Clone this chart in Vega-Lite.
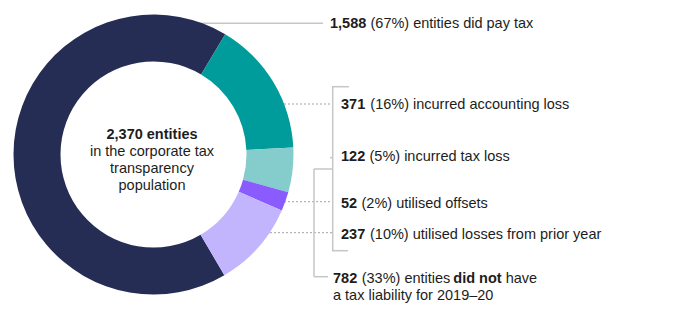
{
  "$schema": "https://vega.github.io/schema/vega-lite/v6.json",
  "width": 689,
  "height": 334,
  "padding": 0,
  "autosize": {"type": "none"},
  "background": "white",
  "datasets": {
    "seg": [
      {"seg": "Paid tax", "count": 1588, "pct": 67, "desc": "entities did pay tax"},
      {"seg": "Accounting loss", "count": 371, "pct": 16, "desc": "incurred accounting loss"},
      {"seg": "Tax loss", "count": 122, "pct": 5, "desc": "incurred tax loss"},
      {"seg": "Offsets", "count": 52, "pct": 2, "desc": "utilised offsets"},
      {"seg": "Prior losses", "count": 237, "pct": 10, "desc": "utilised losses from prior year"}
    ]
  },
  "layer": [
    {
      "data": {"values": [{}]},
      "layer": [
        {"mark": {"type": "rule"}, "encoding": {"x": {"datum": 190, "type": "quantitative", "scale": {"domain": [0, 689], "nice": false, "zero": false}, "axis": null}, "x2": {"datum": 323}, "y": {"datum": 23.3, "type": "quantitative", "scale": {"domain": [0, 334], "nice": false, "zero": false, "reverse": true}, "axis": null}}},
        {"mark": {"type": "rule", "strokeDash": [2, 2], "color": "#a3a3a3", "strokeWidth": 1}, "encoding": {"x": {"datum": 280, "type": "quantitative", "scale": {"domain": [0, 689], "nice": false, "zero": false}, "axis": null}, "x2": {"datum": 332}, "y": {"datum": 104, "type": "quantitative", "scale": {"domain": [0, 334], "nice": false, "zero": false, "reverse": true}, "axis": null}}},
        {"mark": {"type": "rule", "strokeDash": [2, 2], "color": "#a3a3a3", "strokeWidth": 1}, "encoding": {"x": {"datum": 280, "type": "quantitative", "scale": {"domain": [0, 689], "nice": false, "zero": false}, "axis": null}, "x2": {"datum": 332}, "y": {"datum": 201.7, "type": "quantitative", "scale": {"domain": [0, 334], "nice": false, "zero": false, "reverse": true}, "axis": null}}},
        {"mark": {"type": "rule", "strokeDash": [2, 2], "color": "#a3a3a3", "strokeWidth": 1}, "encoding": {"x": {"datum": 262, "type": "quantitative", "scale": {"domain": [0, 689], "nice": false, "zero": false}, "axis": null}, "x2": {"datum": 332}, "y": {"datum": 232.7, "type": "quantitative", "scale": {"domain": [0, 334], "nice": false, "zero": false, "reverse": true}, "axis": null}}},
        {"mark": {"type": "rule"}, "encoding": {"x": {"datum": 332.7, "type": "quantitative", "scale": {"domain": [0, 689], "nice": false, "zero": false}, "axis": null}, "y": {"datum": 86.7, "type": "quantitative", "scale": {"domain": [0, 334], "nice": false, "zero": false, "reverse": true}, "axis": null}, "y2": {"datum": 250.7}}},
        {"mark": {"type": "rule"}, "encoding": {"x": {"datum": 332, "type": "quantitative", "scale": {"domain": [0, 689], "nice": false, "zero": false}, "axis": null}, "x2": {"datum": 349}, "y": {"datum": 86.7, "type": "quantitative", "scale": {"domain": [0, 334], "nice": false, "zero": false, "reverse": true}, "axis": null}}},
        {"mark": {"type": "rule"}, "encoding": {"x": {"datum": 332, "type": "quantitative", "scale": {"domain": [0, 689], "nice": false, "zero": false}, "axis": null}, "x2": {"datum": 348}, "y": {"datum": 250.7, "type": "quantitative", "scale": {"domain": [0, 334], "nice": false, "zero": false, "reverse": true}, "axis": null}}},
        {"mark": {"type": "rule"}, "encoding": {"x": {"datum": 314, "type": "quantitative", "scale": {"domain": [0, 689], "nice": false, "zero": false}, "axis": null}, "x2": {"datum": 332.7}, "y": {"datum": 169, "type": "quantitative", "scale": {"domain": [0, 334], "nice": false, "zero": false, "reverse": true}, "axis": null}}},
        {"mark": {"type": "rule"}, "encoding": {"x": {"datum": 314, "type": "quantitative", "scale": {"domain": [0, 689], "nice": false, "zero": false}, "axis": null}, "y": {"datum": 169, "type": "quantitative", "scale": {"domain": [0, 334], "nice": false, "zero": false, "reverse": true}, "axis": null}, "y2": {"datum": 276.7}}},
        {"mark": {"type": "rule"}, "encoding": {"x": {"datum": 314, "type": "quantitative", "scale": {"domain": [0, 689], "nice": false, "zero": false}, "axis": null}, "x2": {"datum": 328}, "y": {"datum": 276.7, "type": "quantitative", "scale": {"domain": [0, 334], "nice": false, "zero": false, "reverse": true}, "axis": null}}},
        {"mark": {"type": "rule"}, "encoding": {"x": {"datum": 330, "type": "quantitative", "scale": {"domain": [0, 689], "nice": false, "zero": false}, "axis": null}, "x2": {"datum": 332.7}, "y": {"datum": 157.7, "type": "quantitative", "scale": {"domain": [0, 334], "nice": false, "zero": false, "reverse": true}, "axis": null}}}
      ]
    },
    {
      "data": {"name": "seg"},
      "transform": [
        {"calculate": "'(' + datum.pct + '%) ' + datum.desc", "as": "rest"},
        {"calculate": "indexof(['Accounting loss','Tax loss','Offsets','Prior losses','Paid tax'], datum.seg)", "as": "ord"}
      ],
      "layer": [
        {
          "mark": {"type": "arc", "radius": 140, "radius2": 93},
          "encoding": {
            "x": {"datum": 153.5, "type": "quantitative", "scale": {"domain": [0, 689], "nice": false, "zero": false}, "axis": null},
            "y": {"datum": 154.5, "type": "quantitative", "scale": {"domain": [0, 334], "nice": false, "zero": false, "reverse": true}, "axis": null},
            "theta": {"field": "count", "type": "quantitative", "stack": true, "scale": {"range": [0.5376, 6.8208]}},
            "order": {"field": "ord", "type": "quantitative"},
            "color": {"field": "seg", "type": "nominal", "legend": null, "scale": {"domain": ["Accounting loss", "Tax loss", "Offsets", "Prior losses", "Paid tax"], "range": ["#009b9b", "#85cdcd", "#8a5cff", "#c3b5fd", "#252d54"]}}
          }
        },
        {
          "transform": [{"filter": "datum.seg === 'Paid tax'"}],
          "encoding": {"y": {"datum": 28.3, "type": "quantitative", "scale": {"domain": [0, 334], "nice": false, "zero": false, "reverse": true}, "axis": null}},
          "layer": [
            {"mark": {"type": "text", "fontWeight": "bold"}, "encoding": {"x": {"datum": 330, "type": "quantitative", "scale": {"domain": [0, 689], "nice": false, "zero": false}, "axis": null}, "text": {"field": "count", "type": "quantitative", "format": ","}}},
            {"mark": {"type": "text"}, "encoding": {"x": {"datum": 370.5, "type": "quantitative", "scale": {"domain": [0, 689], "nice": false, "zero": false}, "axis": null}, "text": {"field": "rest", "type": "nominal"}}}
          ]
        },
        {
          "transform": [{"filter": "datum.seg === 'Accounting loss'"}],
          "encoding": {"y": {"datum": 109.3, "type": "quantitative", "scale": {"domain": [0, 334], "nice": false, "zero": false, "reverse": true}, "axis": null}},
          "layer": [
            {"mark": {"type": "text", "fontWeight": "bold"}, "encoding": {"x": {"datum": 341, "type": "quantitative", "scale": {"domain": [0, 689], "nice": false, "zero": false}, "axis": null}, "text": {"field": "count", "type": "quantitative", "format": ","}}},
            {"mark": {"type": "text"}, "encoding": {"x": {"datum": 370.3, "type": "quantitative", "scale": {"domain": [0, 689], "nice": false, "zero": false}, "axis": null}, "text": {"field": "rest", "type": "nominal"}}}
          ]
        },
        {
          "transform": [{"filter": "datum.seg === 'Tax loss'"}],
          "encoding": {"y": {"datum": 161, "type": "quantitative", "scale": {"domain": [0, 334], "nice": false, "zero": false, "reverse": true}, "axis": null}},
          "layer": [
            {"mark": {"type": "text", "fontWeight": "bold"}, "encoding": {"x": {"datum": 341, "type": "quantitative", "scale": {"domain": [0, 689], "nice": false, "zero": false}, "axis": null}, "text": {"field": "count", "type": "quantitative", "format": ","}}},
            {"mark": {"type": "text"}, "encoding": {"x": {"datum": 369.5, "type": "quantitative", "scale": {"domain": [0, 689], "nice": false, "zero": false}, "axis": null}, "text": {"field": "rest", "type": "nominal"}}}
          ]
        },
        {
          "transform": [{"filter": "datum.seg === 'Offsets'"}],
          "encoding": {"y": {"datum": 207.7, "type": "quantitative", "scale": {"domain": [0, 334], "nice": false, "zero": false, "reverse": true}, "axis": null}},
          "layer": [
            {"mark": {"type": "text", "fontWeight": "bold"}, "encoding": {"x": {"datum": 341, "type": "quantitative", "scale": {"domain": [0, 689], "nice": false, "zero": false}, "axis": null}, "text": {"field": "count", "type": "quantitative", "format": ","}}},
            {"mark": {"type": "text"}, "encoding": {"x": {"datum": 361.5, "type": "quantitative", "scale": {"domain": [0, 689], "nice": false, "zero": false}, "axis": null}, "text": {"field": "rest", "type": "nominal"}}}
          ]
        },
        {
          "transform": [{"filter": "datum.seg === 'Prior losses'"}],
          "encoding": {"y": {"datum": 239, "type": "quantitative", "scale": {"domain": [0, 334], "nice": false, "zero": false, "reverse": true}, "axis": null}},
          "layer": [
            {"mark": {"type": "text", "fontWeight": "bold"}, "encoding": {"x": {"datum": 341, "type": "quantitative", "scale": {"domain": [0, 689], "nice": false, "zero": false}, "axis": null}, "text": {"field": "count", "type": "quantitative", "format": ","}}},
            {"mark": {"type": "text"}, "encoding": {"x": {"datum": 370, "type": "quantitative", "scale": {"domain": [0, 689], "nice": false, "zero": false}, "axis": null}, "text": {"field": "rest", "type": "nominal"}}}
          ]
        }
      ]
    },
    {
      "data": {"values": [{}]},
      "layer": [
        {"mark": {"type": "text", "fontWeight": "bold", "align": "center"}, "encoding": {"x": {"datum": 152, "type": "quantitative", "scale": {"domain": [0, 689], "nice": false, "zero": false}, "axis": null}, "y": {"datum": 139.3, "type": "quantitative", "scale": {"domain": [0, 334], "nice": false, "zero": false, "reverse": true}, "axis": null}, "text": {"value": "2,370 entities"}}},
        {"mark": {"type": "text", "align": "center", "lineHeight": 17}, "encoding": {"x": {"datum": 152, "type": "quantitative", "scale": {"domain": [0, 689], "nice": false, "zero": false}, "axis": null}, "y": {"datum": 156, "type": "quantitative", "scale": {"domain": [0, 334], "nice": false, "zero": false, "reverse": true}, "axis": null}, "text": {"value": ["in the corporate tax", "transparency", "population"]}}},
        {"mark": {"type": "text", "fontWeight": "bold"}, "encoding": {"x": {"datum": 333, "type": "quantitative", "scale": {"domain": [0, 689], "nice": false, "zero": false}, "axis": null}, "y": {"datum": 282.7, "type": "quantitative", "scale": {"domain": [0, 334], "nice": false, "zero": false, "reverse": true}, "axis": null}, "text": {"value": "782"}}},
        {"mark": {"type": "text"}, "encoding": {"x": {"datum": 361.7, "type": "quantitative", "scale": {"domain": [0, 689], "nice": false, "zero": false}, "axis": null}, "y": {"datum": 282.7, "type": "quantitative", "scale": {"domain": [0, 334], "nice": false, "zero": false, "reverse": true}, "axis": null}, "text": {"value": "(33%) entities"}}},
        {"mark": {"type": "text", "fontWeight": "bold"}, "encoding": {"x": {"datum": 453.3, "type": "quantitative", "scale": {"domain": [0, 689], "nice": false, "zero": false}, "axis": null}, "y": {"datum": 282.7, "type": "quantitative", "scale": {"domain": [0, 334], "nice": false, "zero": false, "reverse": true}, "axis": null}, "text": {"value": "did not"}}},
        {"mark": {"type": "text"}, "encoding": {"x": {"datum": 505.7, "type": "quantitative", "scale": {"domain": [0, 689], "nice": false, "zero": false}, "axis": null}, "y": {"datum": 282.7, "type": "quantitative", "scale": {"domain": [0, 334], "nice": false, "zero": false, "reverse": true}, "axis": null}, "text": {"value": "have"}}},
        {"mark": {"type": "text"}, "encoding": {"x": {"datum": 333, "type": "quantitative", "scale": {"domain": [0, 689], "nice": false, "zero": false}, "axis": null}, "y": {"datum": 300, "type": "quantitative", "scale": {"domain": [0, 334], "nice": false, "zero": false, "reverse": true}, "axis": null}, "text": {"value": "a tax liability for 2019–20"}}}
      ]
    }
  ],
  "config": {
    "view": {"stroke": null},
    "text": {"font": "Liberation Sans", "fontSize": 14.5, "color": "#1d1d1b", "align": "left", "baseline": "alphabetic"},
    "rule": {"color": "#c6c6c6", "strokeWidth": 1.5}
  }
}
